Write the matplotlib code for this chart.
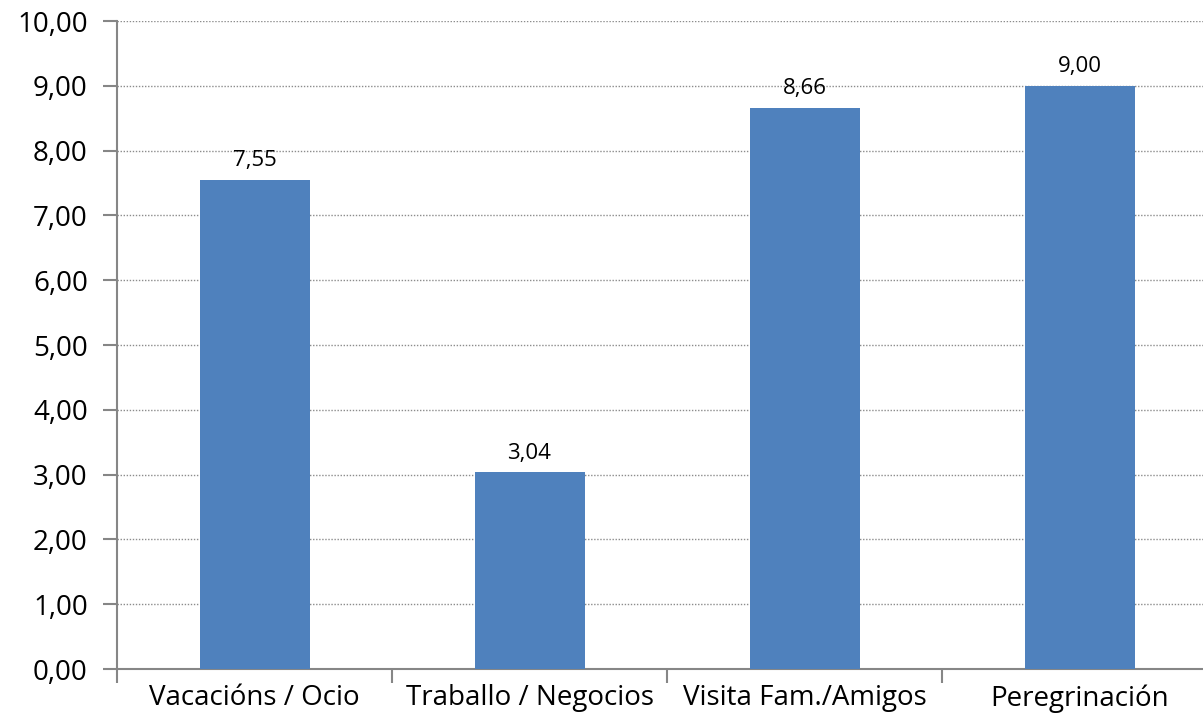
import matplotlib
matplotlib.use('Agg')
from matplotlib import pyplot as plt
from matplotlib.ticker import FixedLocator, FuncFormatter

# data
categories = ['Vacacións / Ocio', 'Traballo / Negocios', 'Visita Fam./Amigos', 'Peregrinación']
values = [7.55, 3.04, 8.66, 9.00]
y_ticks = [0, 1, 2, 3, 4, 5, 6, 7, 8, 9, 10]

plt.rcParams['font.family'] = ['Open Sans', 'DejaVu Sans']

fig = plt.figure(figsize=(12.03, 7.28), dpi=100)
# axes runs a little past the right edge like the screenshot
ax = fig.add_axes([117 / 1203, 59 / 728, 1100 / 1203, 648 / 728])

x = list(range(len(categories)))
bars = ax.bar(x, values, width=0.4, color='#4F81BD', zorder=3)

for xi, v in zip(x, values):
    ax.annotate('{:.2f}'.format(v).replace('.', ','), (xi, v), xytext=(0, 6),
                textcoords='offset points', ha='center', va='bottom',
                fontsize=16, color='black')

ax.set_xlim(-0.5, len(categories) - 0.5)
ax.set_ylim(0, 10)

# y axis
ax.yaxis.set_major_locator(FixedLocator(y_ticks))
ax.yaxis.set_major_formatter(FuncFormatter(lambda v, p: '{:.2f}'.format(v).replace('.', ',')))
ax.grid(axis='y', color='#8c8c8c', linestyle=(0, (1, 1.2)), linewidth=1.0, zorder=0)
ax.tick_params(axis='y', length=10, width=1.5, color='#868686', labelsize=20, pad=11)

# x axis: ticks sit between categories, labels at the centres
ax.set_xticks([i - 0.5 for i in range(len(categories) + 1)])
ax.set_xticklabels([])
ax.set_xticks(x, minor=True)
ax.set_xticklabels(categories, minor=True)
ax.tick_params(axis='x', which='major', length=10, width=1.5, color='#868686')
ax.tick_params(axis='x', which='minor', length=0, labelsize=20, pad=11)

for s in ['top', 'right']:
    ax.spines[s].set_visible(False)
for s in ['left', 'bottom']:
    ax.spines[s].set_color('#868686')
    ax.spines[s].set_linewidth(1.5)

fig.savefig('out.png', dpi=100)
